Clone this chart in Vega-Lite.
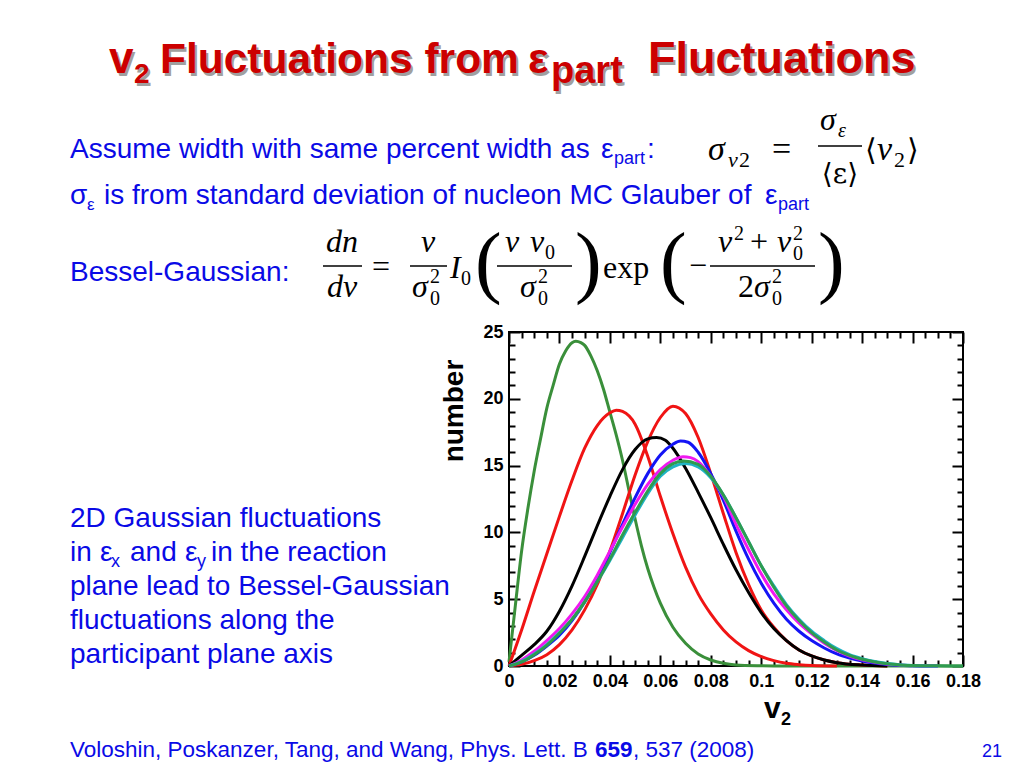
{
  "$schema": "https://vega.github.io/schema/vega-lite/v6.json",
  "width": 454,
  "height": 334,
  "autosize": {"type": "none"},
  "padding": {"left": 509, "top": 332, "right": 61, "bottom": 102},
  "background": "white",
  "config": {
    "view": {"stroke": "black", "strokeWidth": 2},
    "text": {"font": "Liberation Sans", "fontSize": 28, "fill": "#0a0ae6", "align": "left", "baseline": "alphabetic"}
  },
  "datasets": {
    "curves": [
      {"s":"8green","v":0,"n":0.3},{"s":"8green","v":0.0025,"n":4.5},{"s":"8green","v":0.005,"n":8.6},{"s":"8green","v":0.0075,"n":11.8},{"s":"8green","v":0.01,"n":14.6},{"s":"8green","v":0.0125,"n":17.0},{"s":"8green","v":0.015,"n":19.3},{"s":"8green","v":0.0175,"n":21.0},{"s":"8green","v":0.02,"n":22.6},{"s":"8green","v":0.0225,"n":23.6},{"s":"8green","v":0.025,"n":24.2},{"s":"8green","v":0.0265,"n":24.3},{"s":"8green","v":0.0285,"n":24.2},{"s":"8green","v":0.03,"n":24.0},{"s":"8green","v":0.0325,"n":23.2},{"s":"8green","v":0.035,"n":22.1},{"s":"8green","v":0.0375,"n":20.7},{"s":"8green","v":0.04,"n":19.0},{"s":"8green","v":0.0425,"n":17.3},{"s":"8green","v":0.045,"n":15.4},{"s":"8green","v":0.0475,"n":13.2},{"s":"8green","v":0.05,"n":11.0},{"s":"8green","v":0.0525,"n":9.0},{"s":"8green","v":0.055,"n":7.3},{"s":"8green","v":0.0575,"n":5.9},{"s":"8green","v":0.06,"n":4.7},{"s":"8green","v":0.065,"n":2.9},{"s":"8green","v":0.07,"n":1.7},{"s":"8green","v":0.075,"n":0.9},{"s":"8green","v":0.08,"n":0.45},{"s":"8green","v":0.085,"n":0.2},{"s":"8green","v":0.09,"n":0.08},{"s":"8green","v":0.1,"n":0.02},{"s":"8green","v":0.11,"n":0},{"s":"8green","v":0.14,"n":0},{"s":"8green","v":0.18,"n":0},
      {"s":"7red1","v":0,"n":0},{"s":"7red1","v":0.005,"n":2.7},{"s":"7red1","v":0.01,"n":5.6},{"s":"7red1","v":0.015,"n":8.4},{"s":"7red1","v":0.02,"n":11.2},{"s":"7red1","v":0.025,"n":13.9},{"s":"7red1","v":0.03,"n":16.3},{"s":"7red1","v":0.035,"n":18.0},{"s":"7red1","v":0.04,"n":18.95},{"s":"7red1","v":0.0425,"n":19.15},{"s":"7red1","v":0.045,"n":19.05},{"s":"7red1","v":0.05,"n":18.1},{"s":"7red1","v":0.055,"n":15.7},{"s":"7red1","v":0.06,"n":12.7},{"s":"7red1","v":0.065,"n":9.9},{"s":"7red1","v":0.07,"n":7.4},{"s":"7red1","v":0.075,"n":5.4},{"s":"7red1","v":0.08,"n":3.9},{"s":"7red1","v":0.085,"n":2.7},{"s":"7red1","v":0.09,"n":1.8},{"s":"7red1","v":0.095,"n":1.15},{"s":"7red1","v":0.1,"n":0.7},{"s":"7red1","v":0.105,"n":0.4},{"s":"7red1","v":0.11,"n":0.2},{"s":"7red1","v":0.115,"n":0.1},{"s":"7red1","v":0.12,"n":0.04},{"s":"7red1","v":0.13,"n":0},
      {"s":"6red2","v":0,"n":0},{"s":"6red2","v":0.005,"n":0.12},{"s":"6red2","v":0.01,"n":0.4},{"s":"6red2","v":0.015,"n":0.85},{"s":"6red2","v":0.02,"n":1.6},{"s":"6red2","v":0.025,"n":2.7},{"s":"6red2","v":0.03,"n":4.2},{"s":"6red2","v":0.035,"n":6.1},{"s":"6red2","v":0.04,"n":8.6},{"s":"6red2","v":0.045,"n":11.4},{"s":"6red2","v":0.05,"n":14.3},{"s":"6red2","v":0.055,"n":16.8},{"s":"6red2","v":0.06,"n":18.6},{"s":"6red2","v":0.065,"n":19.45},{"s":"6red2","v":0.07,"n":18.9},{"s":"6red2","v":0.075,"n":17.1},{"s":"6red2","v":0.08,"n":14.4},{"s":"6red2","v":0.085,"n":11.4},{"s":"6red2","v":0.09,"n":8.5},{"s":"6red2","v":0.095,"n":6.1},{"s":"6red2","v":0.1,"n":4.2},{"s":"6red2","v":0.105,"n":2.9},{"s":"6red2","v":0.11,"n":1.9},{"s":"6red2","v":0.115,"n":1.2},{"s":"6red2","v":0.12,"n":0.75},{"s":"6red2","v":0.125,"n":0.45},{"s":"6red2","v":0.13,"n":0.25},{"s":"6red2","v":0.14,"n":0.07},{"s":"6red2","v":0.15,"n":0},
      {"s":"5black","v":0,"n":0},{"s":"5black","v":0.005,"n":0.8},{"s":"5black","v":0.01,"n":1.6},{"s":"5black","v":0.015,"n":2.6},{"s":"5black","v":0.02,"n":4.1},{"s":"5black","v":0.025,"n":6.0},{"s":"5black","v":0.03,"n":8.2},{"s":"5black","v":0.035,"n":10.5},{"s":"5black","v":0.04,"n":12.7},{"s":"5black","v":0.045,"n":14.7},{"s":"5black","v":0.05,"n":16.2},{"s":"5black","v":0.055,"n":17.0},{"s":"5black","v":0.0585,"n":17.1},{"s":"5black","v":0.062,"n":16.9},{"s":"5black","v":0.065,"n":16.3},{"s":"5black","v":0.07,"n":14.8},{"s":"5black","v":0.075,"n":13.0},{"s":"5black","v":0.08,"n":11.1},{"s":"5black","v":0.085,"n":9.1},{"s":"5black","v":0.09,"n":7.2},{"s":"5black","v":0.095,"n":5.5},{"s":"5black","v":0.1,"n":4.0},{"s":"5black","v":0.105,"n":2.8},{"s":"5black","v":0.11,"n":1.9},{"s":"5black","v":0.115,"n":1.2},{"s":"5black","v":0.12,"n":0.75},{"s":"5black","v":0.125,"n":0.45},{"s":"5black","v":0.13,"n":0.25},{"s":"5black","v":0.14,"n":0.07},{"s":"5black","v":0.15,"n":0},
      {"s":"4blue","v":0,"n":0},{"s":"4blue","v":0.005,"n":0.3},{"s":"4blue","v":0.01,"n":0.8},{"s":"4blue","v":0.015,"n":1.5},{"s":"4blue","v":0.02,"n":2.3},{"s":"4blue","v":0.025,"n":3.4},{"s":"4blue","v":0.03,"n":4.8},{"s":"4blue","v":0.035,"n":6.5},{"s":"4blue","v":0.04,"n":8.5},{"s":"4blue","v":0.045,"n":10.6},{"s":"4blue","v":0.05,"n":12.6},{"s":"4blue","v":0.055,"n":14.4},{"s":"4blue","v":0.06,"n":15.8},{"s":"4blue","v":0.065,"n":16.6},{"s":"4blue","v":0.068,"n":16.84},{"s":"4blue","v":0.071,"n":16.75},{"s":"4blue","v":0.075,"n":16.0},{"s":"4blue","v":0.08,"n":14.4},{"s":"4blue","v":0.085,"n":12.4},{"s":"4blue","v":0.09,"n":10.1},{"s":"4blue","v":0.095,"n":8.0},{"s":"4blue","v":0.1,"n":6.2},{"s":"4blue","v":0.105,"n":4.7},{"s":"4blue","v":0.11,"n":3.5},{"s":"4blue","v":0.115,"n":2.6},{"s":"4blue","v":0.12,"n":1.9},{"s":"4blue","v":0.125,"n":1.35},{"s":"4blue","v":0.13,"n":0.9},{"s":"4blue","v":0.135,"n":0.6},{"s":"4blue","v":0.14,"n":0.38},{"s":"4blue","v":0.145,"n":0.22},{"s":"4blue","v":0.15,"n":0.12},{"s":"4blue","v":0.155,"n":0.06},{"s":"4blue","v":0.16,"n":0.02},{"s":"4blue","v":0.17,"n":0},
      {"s":"3magenta","v":0,"n":0},{"s":"3magenta","v":0.005,"n":0.45},{"s":"3magenta","v":0.01,"n":1.1},{"s":"3magenta","v":0.015,"n":1.9},{"s":"3magenta","v":0.02,"n":2.8},{"s":"3magenta","v":0.025,"n":3.9},{"s":"3magenta","v":0.03,"n":5.2},{"s":"3magenta","v":0.035,"n":6.8},{"s":"3magenta","v":0.04,"n":8.6},{"s":"3magenta","v":0.045,"n":10.4},{"s":"3magenta","v":0.05,"n":12.1},{"s":"3magenta","v":0.055,"n":13.6},{"s":"3magenta","v":0.06,"n":14.7},{"s":"3magenta","v":0.065,"n":15.4},{"s":"3magenta","v":0.069,"n":15.67},{"s":"3magenta","v":0.072,"n":15.6},{"s":"3magenta","v":0.075,"n":15.3},{"s":"3magenta","v":0.08,"n":14.2},{"s":"3magenta","v":0.085,"n":12.7},{"s":"3magenta","v":0.09,"n":10.6},{"s":"3magenta","v":0.095,"n":8.7},{"s":"3magenta","v":0.1,"n":6.9},{"s":"3magenta","v":0.105,"n":5.4},{"s":"3magenta","v":0.11,"n":4.2},{"s":"3magenta","v":0.115,"n":3.2},{"s":"3magenta","v":0.12,"n":2.4},{"s":"3magenta","v":0.125,"n":1.7},{"s":"3magenta","v":0.13,"n":1.15},{"s":"3magenta","v":0.135,"n":0.75},{"s":"3magenta","v":0.14,"n":0.47},{"s":"3magenta","v":0.145,"n":0.28},{"s":"3magenta","v":0.15,"n":0.15},{"s":"3magenta","v":0.155,"n":0.08},{"s":"3magenta","v":0.16,"n":0.03},{"s":"3magenta","v":0.17,"n":0},
      {"s":"1cyan","v":0,"n":0},{"s":"1cyan","v":0.005,"n":0.35},{"s":"1cyan","v":0.01,"n":0.9},{"s":"1cyan","v":0.015,"n":1.6},{"s":"1cyan","v":0.02,"n":2.5},{"s":"1cyan","v":0.025,"n":3.5},{"s":"1cyan","v":0.03,"n":4.8},{"s":"1cyan","v":0.035,"n":6.3},{"s":"1cyan","v":0.04,"n":7.9},{"s":"1cyan","v":0.045,"n":9.6},{"s":"1cyan","v":0.05,"n":11.3},{"s":"1cyan","v":0.055,"n":12.9},{"s":"1cyan","v":0.06,"n":14.2},{"s":"1cyan","v":0.065,"n":14.9},{"s":"1cyan","v":0.07,"n":15.15},{"s":"1cyan","v":0.075,"n":14.9},{"s":"1cyan","v":0.08,"n":14.1},{"s":"1cyan","v":0.085,"n":12.8},{"s":"1cyan","v":0.09,"n":11.1},{"s":"1cyan","v":0.095,"n":9.3},{"s":"1cyan","v":0.1,"n":7.5},{"s":"1cyan","v":0.105,"n":6.0},{"s":"1cyan","v":0.11,"n":4.6},{"s":"1cyan","v":0.115,"n":3.5},{"s":"1cyan","v":0.12,"n":2.6},{"s":"1cyan","v":0.125,"n":1.9},{"s":"1cyan","v":0.13,"n":1.3},{"s":"1cyan","v":0.135,"n":0.85},{"s":"1cyan","v":0.14,"n":0.55},{"s":"1cyan","v":0.145,"n":0.33},{"s":"1cyan","v":0.15,"n":0.18},{"s":"1cyan","v":0.155,"n":0.09},{"s":"1cyan","v":0.16,"n":0.04},{"s":"1cyan","v":0.17,"n":0},
      {"s":"2green","v":0,"n":0},{"s":"2green","v":0.005,"n":0.3},{"s":"2green","v":0.01,"n":0.85},{"s":"2green","v":0.015,"n":1.55},{"s":"2green","v":0.02,"n":2.45},{"s":"2green","v":0.025,"n":3.5},{"s":"2green","v":0.03,"n":4.8},{"s":"2green","v":0.035,"n":6.3},{"s":"2green","v":0.04,"n":8.0},{"s":"2green","v":0.045,"n":9.8},{"s":"2green","v":0.05,"n":11.5},{"s":"2green","v":0.055,"n":13.1},{"s":"2green","v":0.06,"n":14.4},{"s":"2green","v":0.065,"n":15.15},{"s":"2green","v":0.069,"n":15.35},{"s":"2green","v":0.075,"n":15.1},{"s":"2green","v":0.08,"n":14.2},{"s":"2green","v":0.085,"n":12.8},{"s":"2green","v":0.09,"n":11.1},{"s":"2green","v":0.095,"n":9.3},{"s":"2green","v":0.1,"n":7.5},{"s":"2green","v":0.105,"n":5.9},{"s":"2green","v":0.11,"n":4.5},{"s":"2green","v":0.115,"n":3.4},{"s":"2green","v":0.12,"n":2.5},{"s":"2green","v":0.125,"n":1.8},{"s":"2green","v":0.13,"n":1.2},{"s":"2green","v":0.135,"n":0.8},{"s":"2green","v":0.14,"n":0.5},{"s":"2green","v":0.145,"n":0.3},{"s":"2green","v":0.15,"n":0.16},{"s":"2green","v":0.155,"n":0.08},{"s":"2green","v":0.16,"n":0.03},{"s":"2green","v":0.17,"n":0.01},{"s":"2green","v":0.18,"n":0}
    ]
  },
  "resolve": {"axis": {"x": "independent", "y": "independent"}},
  "layer": [
    {
      "data": {"name": "curves"},
      "mark": {"type": "line", "interpolate": "monotone"},
      "encoding": {
        "x": {"field": "v", "type": "quantitative", "scale": {"domain": [0, 0.18], "nice": false, "zero": false},
          "axis": {"orient": "bottom", "values": [0, 0.02, 0.04, 0.06, 0.08, 0.1, 0.12, 0.14, 0.16, 0.18], "format": "~g", "domain": false, "grid": false, "title": null, "tickSize": -11, "tickWidth": 2, "tickColor": "black", "labelPadding": 17, "labelFont": "Liberation Sans", "labelFontWeight": "bold", "labelFontSize": 18, "labelColor": "black", "labelOverlap": false, "labelFlush": false}},
        "y": {"field": "n", "type": "quantitative", "scale": {"domain": [0, 25], "nice": false},
          "axis": {"orient": "left", "values": [0, 5, 10, 15, 20, 25], "domain": false, "grid": false, "title": null, "tickSize": -11, "tickWidth": 2, "tickColor": "black", "labelPadding": 17, "labelFont": "Liberation Sans", "labelFontWeight": "bold", "labelFontSize": 18, "labelColor": "black", "labelOverlap": false, "labelFlush": false}},
        "color": {"field": "s", "type": "nominal", "legend": null,
          "scale": {"domain": ["1cyan", "2green", "3magenta", "4blue", "5black", "6red2", "7red1", "8green"], "range": ["#1fb3c4", "#2e9b50", "#f018f0", "#1414f5", "#000000", "#f01414", "#f01414", "#3a8f3a"]}},
        "strokeWidth": {"field": "s", "type": "nominal", "legend": null,
          "scale": {"domain": ["1cyan", "2green", "3magenta", "4blue", "5black", "6red2", "7red1", "8green"], "range": [3, 3, 2.5, 2.2, 2, 2, 2, 2]}}
      }
    },
    {
      "data": {"values": [{"v": 0, "n": 0}]},
      "mark": {"type": "point", "opacity": 0},
      "encoding": {
        "x": {"field": "v", "type": "quantitative", "scale": {"domain": [0, 0.18], "nice": false, "zero": false},
          "axis": {"orient": "bottom", "values": [0.005, 0.01, 0.015, 0.025, 0.03, 0.035, 0.045, 0.05, 0.055, 0.065, 0.07, 0.075, 0.085, 0.09, 0.095, 0.105, 0.11, 0.115, 0.125, 0.13, 0.135, 0.145, 0.15, 0.155, 0.165, 0.17, 0.175], "labels": false, "domain": false, "grid": false, "title": null, "tickSize": -6, "tickWidth": 2, "tickColor": "black"}},
        "y": {"field": "n", "type": "quantitative", "scale": {"domain": [0, 25], "nice": false},
          "axis": {"orient": "left", "values": [1, 2, 3, 4, 6, 7, 8, 9, 11, 12, 13, 14, 16, 17, 18, 19, 21, 22, 23, 24], "labels": false, "domain": false, "grid": false, "title": null, "tickSize": -6, "tickWidth": 2, "tickColor": "black"}}
      }
    },
    {
      "data": {"values": [{"v": 0, "n": 0}]},
      "mark": {"type": "point", "opacity": 0},
      "encoding": {
        "x": {"field": "v", "type": "quantitative", "scale": {"domain": [0, 0.18], "nice": false, "zero": false},
          "axis": {"orient": "top", "values": [0, 0.02, 0.04, 0.06, 0.08, 0.1, 0.12, 0.14, 0.16, 0.18], "labels": false, "domain": false, "grid": false, "title": null, "tickSize": -11, "tickWidth": 2, "tickColor": "black"}},
        "y": {"field": "n", "type": "quantitative", "scale": {"domain": [0, 25], "nice": false},
          "axis": {"orient": "right", "values": [0, 5, 10, 15, 20, 25], "labels": false, "domain": false, "grid": false, "title": null, "tickSize": -11, "tickWidth": 2, "tickColor": "black"}}
      }
    },
    {
      "data": {"values": [{"v": 0, "n": 0}]},
      "mark": {"type": "point", "opacity": 0},
      "encoding": {
        "x": {"field": "v", "type": "quantitative", "scale": {"domain": [0, 0.18], "nice": false, "zero": false},
          "axis": {"orient": "top", "values": [0.005, 0.01, 0.015, 0.025, 0.03, 0.035, 0.045, 0.05, 0.055, 0.065, 0.07, 0.075, 0.085, 0.09, 0.095, 0.105, 0.11, 0.115, 0.125, 0.13, 0.135, 0.145, 0.15, 0.155, 0.165, 0.17, 0.175], "labels": false, "domain": false, "grid": false, "title": null, "tickSize": -6, "tickWidth": 2, "tickColor": "black"}},
        "y": {"field": "n", "type": "quantitative", "scale": {"domain": [0, 25], "nice": false},
          "axis": {"orient": "right", "values": [1, 2, 3, 4, 6, 7, 8, 9, 11, 12, 13, 14, 16, 17, 18, 19, 21, 22, 23, 24], "labels": false, "domain": false, "grid": false, "title": null, "tickSize": -6, "tickWidth": 2, "tickColor": "black"}}
      }
    },

    {"data": {"values": [{}]}, "mark": {"type": "text", "text": "v", "x": -398, "y": -256, "fontSize": 44, "fontWeight": "bold", "fill": "#a0a0a0"}},
    {"data": {"values": [{}]}, "mark": {"type": "text", "text": "2", "x": -373, "y": -246, "fontSize": 28, "fontWeight": "bold", "fill": "#a0a0a0"}},
    {"data": {"values": [{}]}, "mark": {"type": "text", "text": "Fluctuations from", "x": -347, "y": -256, "fontSize": 42.5, "fontWeight": "bold", "fill": "#a0a0a0"}},
    {"data": {"values": [{}]}, "mark": {"type": "text", "text": "ε", "x": 21, "y": -256, "fontSize": 43, "fontWeight": "bold", "fill": "#a0a0a0"}},
    {"data": {"values": [{}]}, "mark": {"type": "text", "text": "part", "x": 44, "y": -246, "fontSize": 38, "fontWeight": "bold", "fill": "#a0a0a0"}},
    {"data": {"values": [{}]}, "mark": {"type": "text", "text": "Fluctuations", "x": 141, "y": -256, "fontSize": 45, "fontWeight": "bold", "fill": "#a0a0a0"}},
    {"data": {"values": [{}]}, "mark": {"type": "text", "text": "v", "x": -400, "y": -259, "fontSize": 44, "fontWeight": "bold", "fill": "#cc0000"}},
    {"data": {"values": [{}]}, "mark": {"type": "text", "text": "2", "x": -375, "y": -249, "fontSize": 28, "fontWeight": "bold", "fill": "#cc0000"}},
    {"data": {"values": [{}]}, "mark": {"type": "text", "text": "Fluctuations from", "x": -349, "y": -259, "fontSize": 42.5, "fontWeight": "bold", "fill": "#cc0000"}},
    {"data": {"values": [{}]}, "mark": {"type": "text", "text": "ε", "x": 19, "y": -259, "fontSize": 43, "fontWeight": "bold", "fill": "#cc0000"}},
    {"data": {"values": [{}]}, "mark": {"type": "text", "text": "part", "x": 42, "y": -249, "fontSize": 38, "fontWeight": "bold", "fill": "#cc0000"}},
    {"data": {"values": [{}]}, "mark": {"type": "text", "text": "Fluctuations", "x": 139, "y": -259, "fontSize": 45, "fontWeight": "bold", "fill": "#cc0000"}},

    {"data": {"values": [{}]}, "mark": {"type": "text", "text": "Assume width with same percent width as", "x": -439, "y": -174}},
    {"data": {"values": [{}]}, "mark": {"type": "text", "text": "ε", "x": 92, "y": -174}},
    {"data": {"values": [{}]}, "mark": {"type": "text", "text": "part", "x": 105, "y": -168, "fontSize": 18}},
    {"data": {"values": [{}]}, "mark": {"type": "text", "text": ":", "x": 138, "y": -174}},

    {"data": {"values": [{}]}, "mark": {"type": "text", "text": "σ", "x": -439, "y": -128}},
    {"data": {"values": [{}]}, "mark": {"type": "text", "text": "ε", "x": -422, "y": -122, "fontSize": 17}},
    {"data": {"values": [{}]}, "mark": {"type": "text", "text": "is from standard deviation of nucleon MC Glauber of", "x": -405, "y": -128}},
    {"data": {"values": [{}]}, "mark": {"type": "text", "text": "ε", "x": 256, "y": -128}},
    {"data": {"values": [{}]}, "mark": {"type": "text", "text": "part", "x": 269, "y": -122, "fontSize": 18}},

    {"data": {"values": [{}]}, "mark": {"type": "text", "text": "σ", "x": 199, "y": -172, "font": "Liberation Serif", "fontStyle": "italic", "fontSize": 34, "fill": "black"}},
    {"data": {"values": [{}]}, "mark": {"type": "text", "text": "v", "x": 219, "y": -165, "font": "Liberation Serif", "fontStyle": "italic", "fontSize": 22, "fill": "black"}},
    {"data": {"values": [{}]}, "mark": {"type": "text", "text": "2", "x": 230, "y": -165, "font": "Liberation Serif", "fontSize": 22, "fill": "black"}},
    {"data": {"values": [{}]}, "mark": {"type": "text", "text": "=", "x": 263, "y": -172, "font": "Liberation Serif", "fontSize": 34, "fill": "black"}},
    {"data": {"values": [{}]}, "mark": {"type": "text", "text": "σ", "x": 311, "y": -202, "font": "Liberation Serif", "fontStyle": "italic", "fontSize": 32, "fill": "black"}},
    {"data": {"values": [{}]}, "mark": {"type": "text", "text": "ε", "x": 329, "y": -195, "font": "Liberation Serif", "fontStyle": "italic", "fontSize": 20, "fill": "black"}},
    {"data": {"values": [{}]}, "mark": {"type": "rule", "stroke": "black", "strokeWidth": 1.5}, "encoding": {"x": {"value": 309}, "x2": {"value": 353}, "y": {"value": -186}}},
    {"data": {"values": [{}]}, "mark": {"type": "text", "text": "⟨ε⟩", "x": 331, "y": -149, "align": "center", "font": "DejaVu Serif", "fontSize": 28, "fill": "black"}},
    {"data": {"values": [{}]}, "mark": {"type": "text", "text": "⟨", "x": 356, "y": -172, "font": "DejaVu Serif", "fontSize": 30, "fill": "black"}},
    {"data": {"values": [{}]}, "mark": {"type": "text", "text": "v", "x": 368, "y": -172, "font": "Liberation Serif", "fontStyle": "italic", "fontSize": 34, "fill": "black"}},
    {"data": {"values": [{}]}, "mark": {"type": "text", "text": "2", "x": 385, "y": -165, "font": "Liberation Serif", "fontSize": 22, "fill": "black"}},
    {"data": {"values": [{}]}, "mark": {"type": "text", "text": "⟩", "x": 398, "y": -172, "font": "DejaVu Serif", "fontSize": 30, "fill": "black"}},

    {"data": {"values": [{}]}, "mark": {"type": "text", "text": "Bessel-Gaussian:", "x": -439, "y": -51}},
    {"data": {"values": [{}]}, "mark": {"type": "text", "text": "dn", "x": -167, "y": -80, "align": "center", "font": "Liberation Serif", "fontStyle": "italic", "fontSize": 32, "fill": "black"}},
    {"data": {"values": [{}]}, "mark": {"type": "rule", "stroke": "black", "strokeWidth": 1.5}, "encoding": {"x": {"value": -186}, "x2": {"value": -147}, "y": {"value": -66}}},
    {"data": {"values": [{}]}, "mark": {"type": "text", "text": "dv", "x": -167, "y": -35, "align": "center", "font": "Liberation Serif", "fontStyle": "italic", "fontSize": 32, "fill": "black"}},
    {"data": {"values": [{}]}, "mark": {"type": "text", "text": "=", "x": -137, "y": -55, "font": "Liberation Serif", "fontSize": 32, "fill": "black"}},
    {"data": {"values": [{}]}, "mark": {"type": "text", "text": "v", "x": -81, "y": -80, "align": "center", "font": "Liberation Serif", "fontStyle": "italic", "fontSize": 32, "fill": "black"}},
    {"data": {"values": [{}]}, "mark": {"type": "rule", "stroke": "black", "strokeWidth": 1.5}, "encoding": {"x": {"value": -99}, "x2": {"value": -62}, "y": {"value": -66}}},
    {"data": {"values": [{}]}, "mark": {"type": "text", "text": "σ", "x": -97, "y": -35, "font": "Liberation Serif", "fontStyle": "italic", "fontSize": 32, "fill": "black"}},
    {"data": {"values": [{}]}, "mark": {"type": "text", "text": "2", "x": -79, "y": -49, "font": "Liberation Serif", "fontSize": 20, "fill": "black"}},
    {"data": {"values": [{}]}, "mark": {"type": "text", "text": "0", "x": -79, "y": -27, "font": "Liberation Serif", "fontSize": 20, "fill": "black"}},
    {"data": {"values": [{}]}, "mark": {"type": "text", "text": "I", "x": -59, "y": -54, "font": "Liberation Serif", "fontStyle": "italic", "fontSize": 32, "fill": "black"}},
    {"data": {"values": [{}]}, "mark": {"type": "text", "text": "0", "x": -48, "y": -47, "font": "Liberation Serif", "fontSize": 20, "fill": "black"}},
    {"data": {"values": [{}]}, "mark": {"type": "text", "text": "(", "x": -34, "y": -44, "font": "Liberation Serif", "fontSize": 80, "fill": "black"}},
    {"data": {"values": [{}]}, "mark": {"type": "text", "text": "v", "x": -4, "y": -80, "font": "Liberation Serif", "fontStyle": "italic", "fontSize": 32, "fill": "black"}},
    {"data": {"values": [{}]}, "mark": {"type": "text", "text": "v", "x": 21, "y": -80, "font": "Liberation Serif", "fontStyle": "italic", "fontSize": 32, "fill": "black"}},
    {"data": {"values": [{}]}, "mark": {"type": "text", "text": "0", "x": 36, "y": -73, "font": "Liberation Serif", "fontSize": 20, "fill": "black"}},
    {"data": {"values": [{}]}, "mark": {"type": "rule", "stroke": "black", "strokeWidth": 1.5}, "encoding": {"x": {"value": -12}, "x2": {"value": 63}, "y": {"value": -66}}},
    {"data": {"values": [{}]}, "mark": {"type": "text", "text": "σ", "x": 11, "y": -35, "font": "Liberation Serif", "fontStyle": "italic", "fontSize": 32, "fill": "black"}},
    {"data": {"values": [{}]}, "mark": {"type": "text", "text": "2", "x": 29, "y": -49, "font": "Liberation Serif", "fontSize": 20, "fill": "black"}},
    {"data": {"values": [{}]}, "mark": {"type": "text", "text": "0", "x": 29, "y": -27, "font": "Liberation Serif", "fontSize": 20, "fill": "black"}},
    {"data": {"values": [{}]}, "mark": {"type": "text", "text": ")", "x": 66, "y": -44, "font": "Liberation Serif", "fontSize": 80, "fill": "black"}},
    {"data": {"values": [{}]}, "mark": {"type": "text", "text": "exp", "x": 94, "y": -54, "font": "Liberation Serif", "fontSize": 32, "fill": "black"}},
    {"data": {"values": [{}]}, "mark": {"type": "text", "text": "(", "x": 151, "y": -44, "font": "Liberation Serif", "fontSize": 80, "fill": "black"}},
    {"data": {"values": [{}]}, "mark": {"type": "text", "text": "−", "x": 180, "y": -56, "font": "Liberation Serif", "fontSize": 32, "fill": "black"}},
    {"data": {"values": [{}]}, "mark": {"type": "text", "text": "v", "x": 209, "y": -80, "font": "Liberation Serif", "fontStyle": "italic", "fontSize": 32, "fill": "black"}},
    {"data": {"values": [{}]}, "mark": {"type": "text", "text": "2", "x": 225, "y": -92, "font": "Liberation Serif", "fontSize": 20, "fill": "black"}},
    {"data": {"values": [{}]}, "mark": {"type": "text", "text": "+", "x": 241, "y": -80, "font": "Liberation Serif", "fontSize": 32, "fill": "black"}},
    {"data": {"values": [{}]}, "mark": {"type": "text", "text": "v", "x": 268, "y": -80, "font": "Liberation Serif", "fontStyle": "italic", "fontSize": 32, "fill": "black"}},
    {"data": {"values": [{}]}, "mark": {"type": "text", "text": "2", "x": 284, "y": -92, "font": "Liberation Serif", "fontSize": 20, "fill": "black"}},
    {"data": {"values": [{}]}, "mark": {"type": "text", "text": "0", "x": 284, "y": -72, "font": "Liberation Serif", "fontSize": 20, "fill": "black"}},
    {"data": {"values": [{}]}, "mark": {"type": "rule", "stroke": "black", "strokeWidth": 1.5}, "encoding": {"x": {"value": 201}, "x2": {"value": 306}, "y": {"value": -66}}},
    {"data": {"values": [{}]}, "mark": {"type": "text", "text": "2", "x": 229, "y": -35, "font": "Liberation Serif", "fontSize": 32, "fill": "black"}},
    {"data": {"values": [{}]}, "mark": {"type": "text", "text": "σ", "x": 245, "y": -35, "font": "Liberation Serif", "fontStyle": "italic", "fontSize": 32, "fill": "black"}},
    {"data": {"values": [{}]}, "mark": {"type": "text", "text": "2", "x": 263, "y": -49, "font": "Liberation Serif", "fontSize": 20, "fill": "black"}},
    {"data": {"values": [{}]}, "mark": {"type": "text", "text": "0", "x": 263, "y": -27, "font": "Liberation Serif", "fontSize": 20, "fill": "black"}},
    {"data": {"values": [{}]}, "mark": {"type": "text", "text": ")", "x": 309, "y": -44, "font": "Liberation Serif", "fontSize": 80, "fill": "black"}},

    {"data": {"values": [{}]}, "mark": {"type": "text", "text": "2D Gaussian fluctuations", "x": -439, "y": 195}},
    {"data": {"values": [{}]}, "mark": {"type": "text", "text": "in", "x": -439, "y": 229}},
    {"data": {"values": [{}]}, "mark": {"type": "text", "text": "ε", "x": -409, "y": 229}},
    {"data": {"values": [{}]}, "mark": {"type": "text", "text": "x", "x": -398, "y": 235, "fontSize": 18}},
    {"data": {"values": [{}]}, "mark": {"type": "text", "text": "and", "x": -379, "y": 229}},
    {"data": {"values": [{}]}, "mark": {"type": "text", "text": "ε", "x": -324, "y": 229}},
    {"data": {"values": [{}]}, "mark": {"type": "text", "text": "y", "x": -312, "y": 235, "fontSize": 18}},
    {"data": {"values": [{}]}, "mark": {"type": "text", "text": "in the reaction", "x": -298, "y": 229}},
    {"data": {"values": [{}]}, "mark": {"type": "text", "text": "plane lead to Bessel-Gaussian", "x": -439, "y": 263}},
    {"data": {"values": [{}]}, "mark": {"type": "text", "text": "fluctuations along the", "x": -439, "y": 297}},
    {"data": {"values": [{}]}, "mark": {"type": "text", "text": "participant plane axis", "x": -439, "y": 331}},

    {"data": {"values": [{}]}, "mark": {"type": "text", "text": "number", "x": -54, "y": 79, "angle": 270, "align": "center", "baseline": "middle", "fontSize": 28, "fontWeight": "bold", "fill": "black"}},
    {"data": {"values": [{}]}, "mark": {"type": "text", "text": "v", "x": 255, "y": 386, "fontSize": 30, "fontWeight": "bold", "fill": "black"}},
    {"data": {"values": [{}]}, "mark": {"type": "text", "text": "2", "x": 272, "y": 393, "fontSize": 18, "fontWeight": "bold", "fill": "black"}},

    {"data": {"values": [{}]}, "mark": {"type": "text", "text": "Voloshin, Poskanzer, Tang, and Wang, Phys. Lett. B", "x": -439, "y": 425, "fontSize": 22.5}},
    {"data": {"values": [{}]}, "mark": {"type": "text", "text": "659", "x": 86, "y": 425, "fontSize": 22.5, "fontWeight": "bold"}},
    {"data": {"values": [{}]}, "mark": {"type": "text", "text": ", 537 (2008)", "x": 124, "y": 425, "fontSize": 22.5}},
    {"data": {"values": [{}]}, "mark": {"type": "text", "text": "21", "x": 493, "y": 425, "align": "right", "fontSize": 18}}
  ]
}
